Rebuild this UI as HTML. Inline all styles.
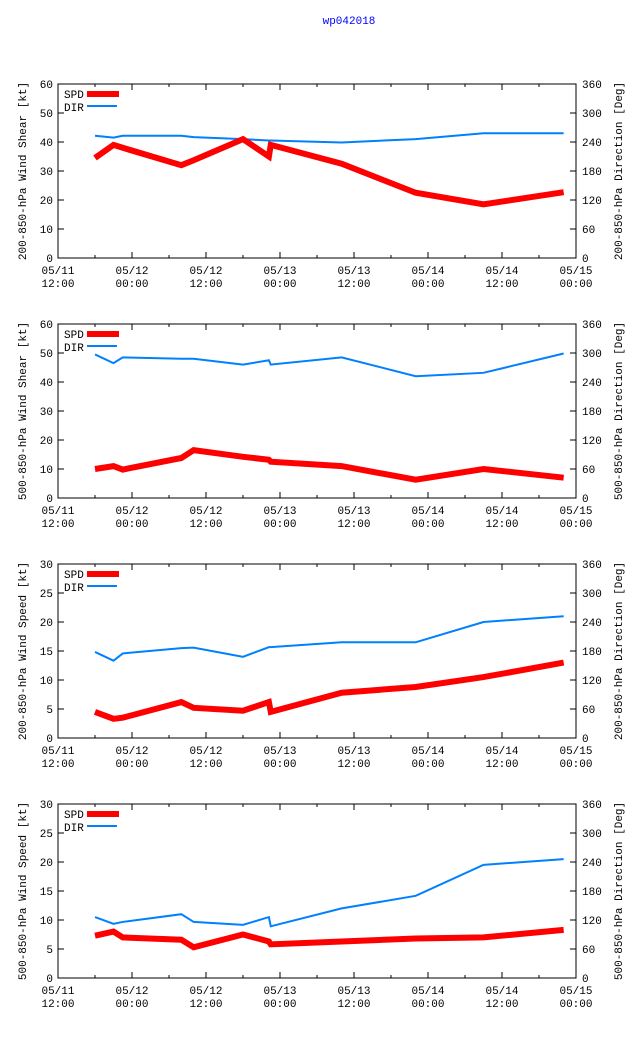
<!DOCTYPE html>
<html><head><meta charset="utf-8">
<style>
html,body{margin:0;padding:0;background:#fff;}
svg{display:block;font-family:"Liberation Mono","DejaVu Sans Mono",monospace;font-size:11px;}
</style></head>
<body>
<svg id="chart" width="640" height="1060" viewBox="0 0 640 1060">
<text x="349" y="24" fill="#0000ff" text-anchor="middle">wp042018</text>
</svg>
<script>
const hours = [6, 9, 10.5, 20, 22, 30, 34.2, 34.5, 46, 58, 69, 82];
const xTickLabels = [["05/11","12:00"],["05/12","00:00"],["05/12","12:00"],["05/13","00:00"],["05/13","12:00"],["05/14","00:00"],["05/14","12:00"],["05/15","00:00"]];
const spd1 = [34.5, 39, 38, 32, 33.7, 41, 35, 39, 32.5, 22.5, 18.5, 22.7];
const dir1 = [253, 249, 253, 253, 250, 246, 243, 243, 239, 246, 258, 258];
const spd2 = [10, 11, 9.8, 13.8, 16.5, 14.2, 13.2, 12.5, 11, 6.3, 10, 7];
const dir2 = [297, 279, 291, 288, 288, 276, 285, 276, 291, 252, 259, 299];
const spd3 = [4.5, 3.3, 3.5, 6.2, 5.2, 4.7, 6.2, 4.5, 7.8, 8.8, 10.5, 13];
const dir3 = [178, 160, 175, 186, 187, 168, 188, 188, 198, 198, 240, 252];
const spd4 = [7.3, 8, 7, 6.6, 5.3, 7.5, 6.3, 5.8, 6.3, 6.8, 7, 8.3];
const dir4 = [126, 112, 116, 132, 116, 110, 126, 107, 144, 170, 234, 246];
const leftTitles = ["200-850-hPa Wind Shear [kt]","500-850-hPa Wind Shear [kt]","200-850-hPa Wind Speed [kt]","500-850-hPa Wind Speed [kt]"];
const rightTitles = ["200-850-hPa Direction [Deg]","500-850-hPa Direction [Deg]","200-850-hPa Direction [Deg]","500-850-hPa Direction [Deg]"];
const leftMax = [60, 60, 30, 30];
const leftStep = [10, 10, 5, 5];
const rightTicks = [0, 60, 120, 180, 240, 300, 360];
const panels = [[spd1, dir1], [spd2, dir2], [spd3, dir3], [spd4, dir4]];

const NS = "http://www.w3.org/2000/svg";
const svg = document.getElementById("chart");
const X0 = 58, X1 = 576, H = 174, SPAN = 84;
function xs(h){ return X0 + h / SPAN * (X1 - X0); }
function mk(tag, attrs, parent){
  const e = document.createElementNS(NS, tag);
  for (const k in attrs) e.setAttribute(k, attrs[k]);
  (parent || svg).appendChild(e);
  return e;
}
panels.forEach((p, i) => {
  const top = 84 + i * 240, bot = top + H;
  const g = mk("g", {});
  
  
  const ys = v => bot - v / leftMax[i] * H;
  const yr = v => bot - v / 360 * H;
  const frame = mk("rect", {x: X0, y: top, width: X1 - X0, height: H, fill: "none", stroke: "#000", "stroke-width": 1}, g);
  
  
  for (let v = 0; v <= leftMax[i]; v += leftStep[i]) {
    const y = ys(v);
    mk("line", {x1: X0, x2: X0 + 6, y1: y, y2: y, stroke: "#000"}, g);
    const t = mk("text", {x: 53, y: y + 4, "text-anchor": "end"}, g);
    t.textContent = v;
    
    
  }
  rightTicks.forEach(v => {
    const y = yr(v);
    mk("line", {x1: X1 - 6, x2: X1, y1: y, y2: y, stroke: "#000"}, g);
    const t = mk("text", {x: 582, y: y + 4}, g);
    t.textContent = v;
    
    
  });
  for (let h = 0; h <= SPAN; h += 6) {
    const x = xs(h), len = (h % 12 === 0) ? 6 : 3;
    mk("line", {x1: x, x2: x, y1: bot, y2: bot - len, stroke: "#000"}, g);
    mk("line", {x1: x, x2: x, y1: top, y2: top + len, stroke: "#000"}, g);
  }
  xTickLabels.forEach((lb, k) => {
    const x = xs(k * 12);
    const t1 = mk("text", {x: x, y: bot + 16, "text-anchor": "middle"}, g);
    t1.textContent = lb[0];
    
    
    const t2 = mk("text", {x: x, y: bot + 29, "text-anchor": "middle"}, g);
    t2.textContent = lb[1];
    
    
  });
  const lt = mk("text", {x: 0, y: 0, "text-anchor": "middle", transform: `translate(26,${top + H / 2}) rotate(-90)`}, g);
  lt.textContent = leftTitles[i];
  
  
  const rt = mk("text", {x: 0, y: 0, "text-anchor": "middle", transform: `translate(622,${top + H / 2}) rotate(-90)`}, g);
  rt.textContent = rightTitles[i];
  
  
  const dirPts = p[1].map((v, k) => xs(hours[k]) + "," + yr(v)).join(" ");
  const dl = mk("polyline", {points: dirPts, fill: "none", stroke: "#0080ff", "stroke-width": 2}, g);
  
  
  const spdPts = p[0].map((v, k) => xs(hours[k]) + "," + ys(v)).join(" ");
  const sl = mk("polyline", {points: spdPts, fill: "none", stroke: "#ff0000", "stroke-width": 6, "stroke-linejoin": "miter"}, g);
  
  
  const l1 = mk("text", {x: 64, y: top + 14}, g);
  l1.textContent = "SPD";
  
  
  const ll1 = mk("line", {x1: 87, x2: 119, y1: top + 10, y2: top + 10, stroke: "#ff0000", "stroke-width": 6}, g);
  
  
  const l2 = mk("text", {x: 64, y: top + 27}, g);
  l2.textContent = "DIR";
  
  
  const ll2 = mk("line", {x1: 87, x2: 117, y1: top + 22, y2: top + 22, stroke: "#0080ff", "stroke-width": 2}, g);
  
  
});
</script>
</body></html>
